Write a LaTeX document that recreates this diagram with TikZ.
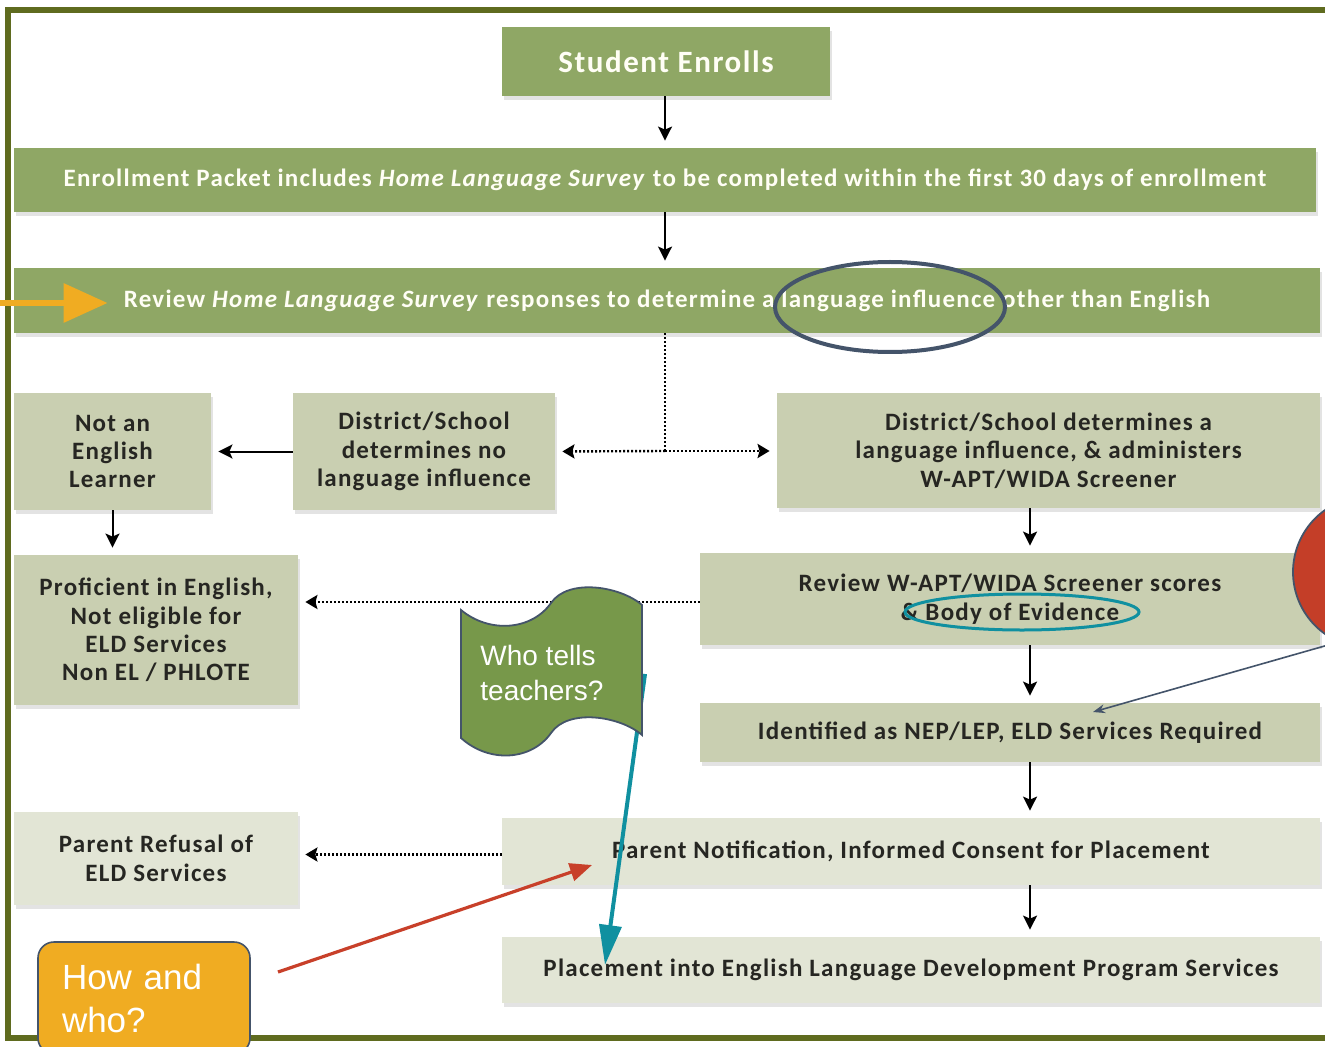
\documentclass[tikz,border=0pt]{standalone}
\usepackage{fontspec}
\setmainfont{Carlito}[LetterSpace=5]
\newfontfamily\notefont{Liberation Sans}
\usetikzlibrary{arrows.meta, positioning, calc, shadows}

\definecolor{frameolive}{RGB}{95,107,31}
\definecolor{stepgreen}{RGB}{143,167,101}
\definecolor{stepsage}{RGB}{201,207,177}
\definecolor{steppale}{RGB}{226,229,213}
\definecolor{textdark}{RGB}{38,38,34}
\definecolor{slateblue}{RGB}{68,84,106}
\definecolor{noteteal}{RGB}{16,144,160}
\definecolor{notered}{RGB}{200,64,42}
\definecolor{noteorange}{RGB}{240,172,34}
\definecolor{notegreen}{RGB}{119,152,74}
\definecolor{bubblered}{RGB}{196,62,40}

\begin{document}
\begin{tikzpicture}[
        x=0.5pt, y=-0.5pt,
        greenbox/.style={
            rectangle,
            fill=stepgreen,
            text=white!96!yellow,
            inner sep=0pt,
            font=\fontsize{12.5}{15}\selectfont\bfseries,
            drop shadow={shadow xshift=1pt, shadow yshift=-2pt, opacity=0.22}
        },
        sagebox/.style={
            rectangle,
            fill=stepsage,
            text=textdark,
            align=center,
            inner sep=0pt,
            font=\fontsize{12.5}{14.2}\selectfont\bfseries,
            drop shadow={shadow xshift=1pt, shadow yshift=-2pt, opacity=0.22}
        },
        palebox/.style={
            sagebox,
            fill=steppale
        },
        flow/.style={
            -{Stealth[length=7pt, width=7pt, inset=1.5pt]},
            draw=black,
            line width=1pt,
            shorten >=3.5pt
        },
        dotline/.style={
            draw=black,
            line width=1.2pt,
            dash pattern=on 0.9pt off 1.1pt
        },
        dotflow/.style={
            dotline,
            -{Stealth[length=6pt, width=7pt, inset=1pt]},
            shorten >=3.5pt
        },
        notetext/.style={
            text=white,
            align=left,
            inner sep=0pt,
            font=\notefont\fontsize{14}{17.5}\selectfont
        },
        ring/.style={
            line width=2pt
        }
    ]

    \useasboundingbox (0,0) rectangle (1325,1047);
    \fill[white] (0,0) rectangle (1325,1047);
    \draw[frameolive, line width=2.8pt] (8,10) rectangle (1350,1038);

    \node[greenbox, minimum width=164pt, minimum height=34.5pt,
          font=\fontsize{15.5}{17}\selectfont\bfseries] (enroll) at (666,61.5) {Student Enrolls};
    \node[greenbox, minimum width=651pt, minimum height=32pt] (packet) at (665,180)
        {Enrollment Packet includes \textit{Home Language Survey} to be completed within the first 30 days of enrollment};
    \node[greenbox, minimum width=653pt, minimum height=32.5pt] (review) at (667,300.5)
        {Review \textit{Home Language Survey} responses to determine a language influence other than English};

    \node[sagebox, minimum width=98.5pt, minimum height=58.5pt] (notel) at (112.5,451.5)
        {Not an\\English\\Learner};
    \node[sagebox, minimum width=131pt, minimum height=58.5pt] (nolang) at (424,451.5)
        {District/School\\determines no\\language influence};
    \node[sagebox, minimum width=271.5pt, minimum height=57.5pt] (lang) at (1048.5,450.5)
        {District/School determines a\\language influence, \& administers\\W-APT/WIDA Screener};
    \node[sagebox, minimum width=142pt, minimum height=75pt] (prof) at (156,630)
        {Proficient in English,\\Not eligible for\\ELD Services\\Non EL / PHLOTE};
    \node[sagebox, minimum width=310pt, minimum height=46pt] (screen) at (1010,599)
        {Review W-APT/WIDA Screener scores\\\& Body of Evidence};
    \node[sagebox, minimum width=310pt, minimum height=29.5pt] (ident) at (1010,732.5)
        {Identified as NEP/LEP, ELD Services Required};
    \node[palebox, minimum width=409pt, minimum height=33.5pt] (notify) at (911,851.5)
        {Parent Notification, Informed Consent for Placement};
    \node[palebox, minimum width=142pt, minimum height=46.5pt] (refusal) at (156,858.5)
        {Parent Refusal of\\ELD Services};
    \node[palebox, minimum width=409pt, minimum height=33pt] (place) at (911,970)
        {Placement into English Language Development Program Services};

    \coordinate (split) at (665,451);
    \coordinate (rcol) at (1030,0);

    \draw[flow] (enroll.south -| packet) -- (packet.north);
    \draw[flow] (packet.south) -- (review.north -| packet);
    \draw[dotline] (review.south -| split) -- (split);
    \draw[dotflow] (split) -- (nolang.east);
    \draw[dotflow] (split) -- (lang.west |- split);
    \draw[flow] (nolang.west) -- (notel.east);
    \draw[flow] (notel.south) -- (notel.south |- prof.north);
    \draw[flow] (lang.south -| rcol) -- (screen.north -| rcol);
    \draw[dotflow] ($(screen.west)+(0,3)$) -- ($(screen.west -| prof.east)+(0,3)$);
    \draw[flow] (screen.south -| rcol) -- (ident.north -| rcol);
    \draw[flow] (ident.south -| rcol) -- (notify.north -| rcol);
    \draw[dotflow] ($(notify.west)+(0,3)$) -- ($(notify.west -| refusal.east)+(0,3)$);
    \draw[flow] (notify.south -| rcol) -- (place.north -| rcol);

    \draw[ring, slateblue] (890,307) ellipse [x radius=57.5pt, y radius=22.5pt];
    \draw[ring, noteteal, line width=1.5pt] (1022,612) ellipse [x radius=58.5pt, y radius=9pt];

    \coordinate (arrowtail) at (-5,303);
    \draw[noteorange, line width=3.2pt, -{Triangle[length=22pt, width=19pt]}] (arrowtail) -- (review.west |- arrowtail) -- ++(94,0);

    \coordinate (tealfrom) at (645,674);
    \coordinate (tealto) at (605,965);
    \draw[noteteal, line width=2pt, -{Triangle[length=20pt, width=11pt]}] (tealfrom) -- (tealto);

    \draw[fill=notegreen, draw=slateblue, line width=0.9pt]
        (461,610) .. controls (490,634) and (532,630) .. (551,603)
        .. controls (568,578) and (620,586) .. (642,605) -- (642,735)
        .. controls (620,716) and (568,708) .. (551,733)
        .. controls (532,760) and (490,764) .. (461,738) -- cycle;
    \node[notetext, anchor=west] (whotells) at (480,673) {Who tells\\teachers?};

    \coordinate (redfrom) at (278,972);
    \coordinate (redto) at (592,865);
    \draw[notered, line width=1.6pt, -{Triangle[length=11pt, width=9pt]}] (redfrom) -- (redto);

    \node[notetext, rectangle, rounded corners=8pt, fill=noteorange, draw=slateblue, line width=0.8pt,
          text width=82pt, inner xsep=12pt, minimum height=56pt,
          font=\notefont\fontsize{17.5}{21.5}\selectfont] (howwho) at (144,998) {How and\\who?};

    \node[circle, fill=bubblered, draw=slateblue, line width=0.9pt, minimum size=76pt] (bubble) at (1369,572) {};
    \coordinate (identmark) at (1093,712);
    \draw[slateblue, line width=0.8pt, -{Stealth[length=6pt, width=4.5pt]}] (bubble.246) -- (identmark);

\end{tikzpicture}
\end{document}
